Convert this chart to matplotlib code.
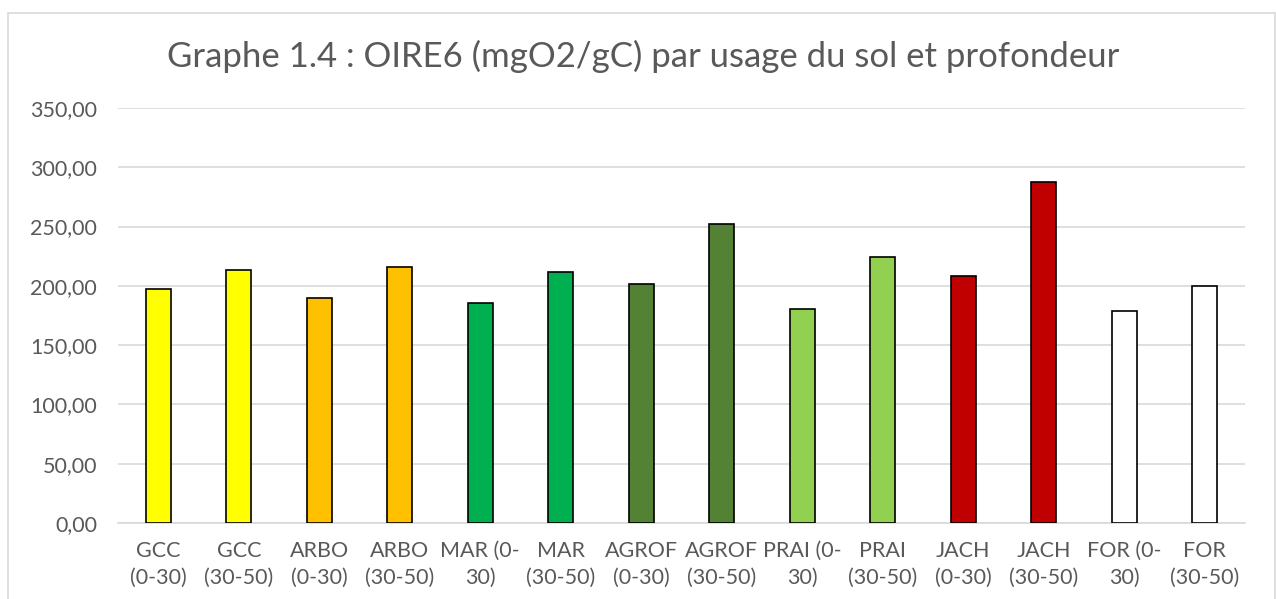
import matplotlib.pyplot as plt
from matplotlib.ticker import FuncFormatter, MultipleLocator
from matplotlib.patches import Rectangle

# Données
etiquettes = ['GCC\n(0-30)', 'GCC\n(30-50)', 'ARBO\n(0-30)', 'ARBO\n(30-50)',
              'MAR (0-\n30)', 'MAR\n(30-50)', 'AGROF\n(0-30)', 'AGROF\n(30-50)',
              'PRAI (0-\n30)', 'PRAI\n(30-50)', 'JACH\n(0-30)', 'JACH\n(30-50)',
              'FOR (0-\n30)', 'FOR\n(30-50)']
oire6 = [197.5, 213.5, 190.0, 216.0, 185.5, 211.5, 201.5, 252.0,
         180.5, 224.5, 208.0, 288.0, 179.0, 200.0]
couleurs = ['#FFFF00', '#FFFF00', '#FFC000', '#FFC000', '#00B050', '#00B050',
            '#548235', '#548235', '#92D050', '#92D050', '#C00000', '#C00000',
            '#FFFFFF', '#FFFFFF']

plt.rcParams['font.family'] = ['Lato', 'DejaVu Sans']
gris = '#595959'

fig = plt.figure(figsize=(12.76, 5.99), dpi=100)
ax = fig.add_axes([0.0925, 0.1269, 0.8832, 0.6928])

x = range(len(oire6))
ax.bar(x, oire6, width=0.31, color=couleurs, edgecolor='black', linewidth=1.2, zorder=3)

ax.set_xlim(-0.5, len(oire6) - 0.5)
ax.set_ylim(0, 350)
ax.yaxis.set_major_locator(MultipleLocator(50))
ax.yaxis.set_major_formatter(FuncFormatter(lambda v, p: f'{v:.2f}'.replace('.', ',')))
ax.set_xticks(list(x))
ax.set_xticklabels(etiquettes, linespacing=1.4)

ax.grid(axis='y', color='#D9D9D9', linewidth=1.2, zorder=0)
for s in ['top', 'right', 'left']:
    ax.spines[s].set_visible(False)
ax.spines['bottom'].set_color('#D9D9D9')
ax.spines['bottom'].set_linewidth(1.2)
ax.tick_params(axis='both', length=0, labelsize=15.5, colors=gris)
ax.tick_params(axis='x', pad=13)
ax.tick_params(axis='y', pad=15)

fig.text(0.504, 0.905, 'Graphe 1.4 : OIRE6 (mgO2/gC) par usage du sol et profondeur',
         ha='center', va='center', fontsize=25, color=gris)

# cadre du graphique
fig.patches.append(Rectangle((0.0065, -0.01), 0.9925, 0.9875, transform=fig.transFigure,
                             fill=False, edgecolor='#D9D9D9', linewidth=1.2))

fig.savefig('out.png', dpi=100)
